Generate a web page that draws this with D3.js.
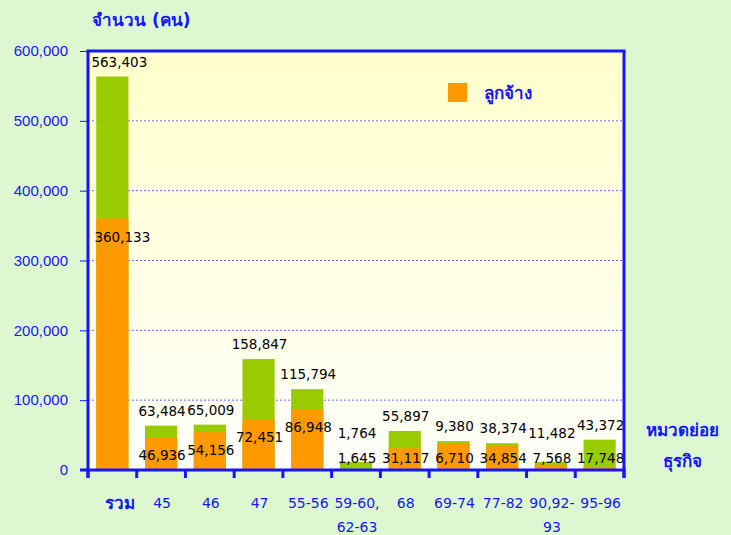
<!DOCTYPE html>
<html>
<head>
<meta charset="utf-8">
<script src="https://cdn.jsdelivr.net/npm/d3@7"></script>
<style>
  body { margin: 0; background: #ddf8d0; }
  svg { display: block; font-family: Tahoma, "DejaVu Sans", "Noto Sans", sans-serif; }
</style>
</head>
<body>
<div id="chart"></div>
<script>
  ////// Data ///////////////////////////////////////
  var categories = [["รวม"], ["45"], ["46"], ["47"], ["55-56"], ["59-60,", "62-63"],
                    ["68"], ["69-74"], ["77-82"], ["90,92-", "93"], ["95-96"]];
  // bar heights
  var employeeValues = [360133, 46936, 54156, 72451, 86948, 1645, 31117, 38600, 34854, 7568, 4500];
  var totalValues = [563403, 63484, 65009, 158847, 115794, 11500, 55897, 41400, 38374, 11482, 43372];
  // printed labels (as they appear on the chart)
  var totalLabels = ["563,403", "63,484", "65,009", "158,847", "115,794", "1,764",
                     "55,897", "9,380", "38,374", "11,482", "43,372"];
  var employeeLabels = ["360,133", "46,936", "54,156", "72,451", "86,948", "1,645",
                        "31,117", "6,710", "34,854", "7,568", "17,748"];
  var yTicks = [0, 100000, 200000, 300000, 400000, 500000, 600000];
  var legendLabel = "ลูกจ้าง";
  var yTitle = "จำนวน (คน)";
  var xTitle = ["หมวดย่อย", "ธุรกิจ"];

  var blue = "#1515ff";
  var margin = {top: 51, right: 107, bottom: 65, left: 88};
  var width = 731 - margin.left - margin.right,
      height = 535 - margin.top - margin.bottom;

  var svg = d3.select("#chart").append("svg")
      .attr("width", 731)
      .attr("height", 535);

  var defs = svg.append("defs");
  var grad = defs.append("linearGradient")
      .attr("id", "bg")
      .attr("x1", 0).attr("y1", 0).attr("x2", 0).attr("y2", 1);
  grad.append("stop").attr("offset", "0%").attr("stop-color", "#ffffcc");
  grad.append("stop").attr("offset", "100%").attr("stop-color", "#fffffa");

  var g = svg.append("g")
      .attr("transform", "translate(" + margin.left + "," + margin.top + ")");

  ////// Scales /////////////
  var xScale = d3.scaleBand()
      .domain(d3.range(categories.length))
      .range([0, width])
      .paddingInner(0.34)
      .paddingOuter(0.17);
  var yScale = d3.scaleLinear()
      .domain([0, 600000])
      .range([height, 0]);

  g.append("rect")
      .attr("width", width)
      .attr("height", height)
      .attr("fill", "url(#bg)");

  // grid lines
  g.append("g")
      .selectAll("line")
      .data(yTicks.filter(function(d) { return d > 0 && d < 600000; }))
      .enter()
      .append("line")
      .attr("x1", 0)
      .attr("x2", width)
      .attr("y1", function(d) { return yScale(d); })
      .attr("y2", function(d) { return yScale(d); })
      .attr("stroke", "#6b6bff")
      .attr("stroke-width", 1)
      .attr("stroke-dasharray", "2,2");

  // bars: green (total) behind, orange (employees) in front
  g.append("g")
      .selectAll("rect")
      .data(totalValues)
      .enter()
      .append("rect")
      .attr("x", function(d, i) { return xScale(i); })
      .attr("width", xScale.bandwidth())
      .attr("y", function(d) { return yScale(d); })
      .attr("height", function(d) { return height - yScale(d); })
      .attr("fill", "#99cc00");

  g.append("g")
      .selectAll("rect")
      .data(employeeValues)
      .enter()
      .append("rect")
      .attr("x", function(d, i) { return xScale(i); })
      .attr("width", xScale.bandwidth())
      .attr("y", function(d) { return yScale(d); })
      .attr("height", function(d) { return height - yScale(d); })
      .attr("fill", "#ff9900");

  // value labels
  function empLabelY(i) {
    return Math.min(yScale(employeeValues[i]) + 18, height - 12);
  }
  function totLabelY(i) {
    return Math.min(yScale(totalValues[i]) - 15, empLabelY(i) - 25);
  }
  function labelX(i) {
    return xScale(i) + xScale.bandwidth() / 2 + (i === 0 ? 7 : 1);
  }
  var labels = g.append("g")
      .attr("font-size", "13.5px")
      .attr("fill", "#000")
      .attr("text-anchor", "middle");
  labels.selectAll(".emp")
      .data(employeeLabels)
      .enter()
      .append("text")
      .attr("class", "emp")
      .attr("x", function(d, i) { return labelX(i) + (i === 0 ? 3 : 0); })
      .attr("y", function(d, i) { return empLabelY(i); })
      .attr("dominant-baseline", "central")
      .text(function(d) { return d; });
  labels.selectAll(".tot")
      .data(totalLabels)
      .enter()
      .append("text")
      .attr("class", "tot")
      .attr("x", function(d, i) { return labelX(i); })
      .attr("y", function(d, i) { return totLabelY(i); })
      .attr("dominant-baseline", "central")
      .text(function(d) { return d; });

  ////// Axes ////////////////
  var yAxis = d3.axisLeft(yScale)
      .tickValues(yTicks)
      .tickSize(8)
      .tickPadding(12)
      .tickFormat(d3.format(","));
  var yG = g.append("g").call(yAxis);
  yG.select(".domain").remove();
  yG.selectAll(".tick line").attr("stroke", blue);
  yG.selectAll(".tick text")
      .attr("fill", blue)
      .attr("font-size", "15px")
      .attr("font-family", null);

  var step = xScale.step();
  var x0 = xScale(0) - xScale.paddingInner() * step / 2;

  // boundary ticks
  g.append("g")
      .selectAll("line")
      .data(d3.range(categories.length + 1))
      .enter()
      .append("line")
      .attr("x1", function(d) { return x0 + d * step; })
      .attr("x2", function(d) { return x0 + d * step; })
      .attr("y1", height)
      .attr("y2", height + 8)
      .attr("stroke", blue)
      .attr("stroke-width", 3);

  // frame
  g.append("line").attr("x1", 0).attr("x2", 0).attr("y1", 0).attr("y2", height + 8)
      .attr("stroke", blue).attr("stroke-width", 3);
  g.append("line").attr("x1", width).attr("x2", width).attr("y1", 0).attr("y2", height + 8)
      .attr("stroke", blue).attr("stroke-width", 3);
  g.append("line").attr("x1", -1.5).attr("x2", width + 1.5).attr("y1", 0).attr("y2", 0)
      .attr("stroke", blue).attr("stroke-width", 3);
  g.append("line").attr("x1", -8).attr("x2", width + 1.5).attr("y1", height).attr("y2", height)
      .attr("stroke", blue).attr("stroke-width", 3);

  // category labels
  var catG = g.append("g")
      .attr("font-size", "14px")
      .attr("fill", blue)
      .attr("text-anchor", "middle");
  catG.selectAll("text")
      .data(categories)
      .enter()
      .append("text")
      .attr("x", function(d, i) { return xScale(i) + xScale.bandwidth() / 2 + (i === 0 ? 8 : 1); })
      .attr("y", height + 33)
      .attr("dominant-baseline", "central")
      .each(function(d) {
        var t = d3.select(this);
        d.forEach(function(line, k) {
          t.append("tspan")
            .attr("x", t.attr("x"))
            .attr("dy", k === 0 ? 0 : 24)
            .style("font-weight", d[0] === "รวม" ? "bold" : null)
            .style("font-size", d[0] === "รวม" ? "17px" : null)
            .text(line);
        });
      });

  // titles
  svg.append("text")
      .attr("x", 92)
      .attr("y", 20)
      .attr("dominant-baseline", "central")
      .attr("fill", blue)
      .attr("font-size", "17px")
      .attr("font-weight", "bold")
      .text(yTitle);

  svg.append("g")
      .selectAll("text")
      .data(xTitle)
      .enter()
      .append("text")
      .attr("x", 682)
      .attr("y", function(d, i) { return 430 + i * 31; })
      .attr("text-anchor", "middle")
      .attr("dominant-baseline", "central")
      .attr("fill", blue)
      .attr("font-size", "17px")
      .attr("font-weight", "bold")
      .text(function(d) { return d; });

  // legend
  var legend = svg.append("g").attr("transform", "translate(448,83)");
  legend.append("rect")
      .attr("width", 19)
      .attr("height", 19)
      .attr("fill", "#ff9900");
  legend.append("text")
      .attr("x", 36)
      .attr("y", 9.5)
      .attr("dominant-baseline", "central")
      .attr("fill", blue)
      .attr("font-size", "17px")
      .attr("font-weight", "bold")
      .text(legendLabel);
</script>
</body>
</html>
